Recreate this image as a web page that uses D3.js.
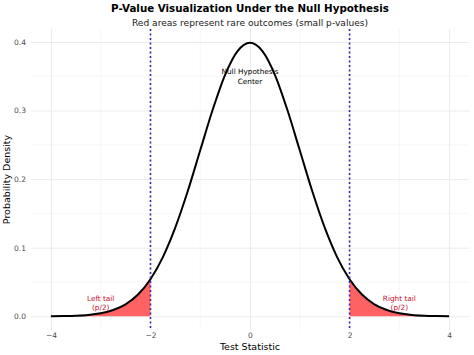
<!DOCTYPE html>
<html lang="en">
<head>
    <meta charset="UTF-8">
    <title>P-Value Visualization</title>
    <style>
        body { margin: 0; background: #fff; }
        text { font-family: "DejaVu Sans", sans-serif; }
    </style>
</head>
<body>
    <svg width="474" height="355"></svg>
    <script src="https://d3js.org/d3.v7.min.js"></script>
    <script>
        // test statistic grid and the density
        var xs = [-4, -3.75, -3.5, -3.25, -3, -2.75, -2.5, -2.25, -2, -1.75, -1.5, -1.25, -1, -0.75, -0.5, -0.25,
                  0, 0.25, 0.5, 0.75, 1, 1.25, 1.5, 1.75, 2, 2.25, 2.5, 2.75, 3, 3.25, 3.5, 3.75, 4];
        var density = [0.0001, 0.0004, 0.0009, 0.002, 0.0044, 0.0091, 0.0175, 0.0317, 0.054, 0.0863, 0.1295, 0.1826,
                       0.242, 0.3011, 0.3521, 0.3867, 0.3989, 0.3867, 0.3521, 0.3011, 0.242, 0.1826, 0.1295, 0.0863,
                       0.054, 0.0317, 0.0175, 0.0091, 0.0044, 0.002, 0.0009, 0.0004, 0.0001];
        var critical = [-2, 2];
        var xTicks = [-4, -2, 0, 2, 4];
        var yTicks = [0, 0.1, 0.2, 0.3, 0.4];
        var labels = [
            {x: 0, y: 0.35, lines: ["Null Hypothesis", "Center"], color: "#000"},
            {x: -3, y: 0.02, lines: ["Left tail", "(p/2)"], color: "#c8102e"},
            {x: 3, y: 0.02, lines: ["Right tail", "(p/2)"], color: "#c8102e"}
        ];

        var data = xs.map(function(x, i){ return {x: x, y: density[i]}; });

        var svg = d3.select("svg"),
            margin = {top: 29, right: 5, bottom: 25, left: 31},
            width = +svg.attr("width") - margin.left - margin.right,
            height = +svg.attr("height") - margin.top - margin.bottom,
            g = svg.append("g").attr("transform", "translate(" + margin.left + "," + margin.top + ")");

        // ggplot style 5% expansion
        var x = d3.scaleLinear().domain([-4.4, 4.4]).range([0, width]);
        var y = d3.scaleLinear().domain([-0.02, 0.4189]).range([height, 0]);

        // grid, minor then major
        g.append("g").selectAll("line")
            .data([-3, -1, 1, 3])
            .enter().append("line")
            .attr("x1", function(d){ return x(d); }).attr("x2", function(d){ return x(d); })
            .attr("y1", 0).attr("y2", height)
            .attr("stroke", "#f0f0f0").attr("stroke-width", 0.6);
        g.append("g").selectAll("line")
            .data([0.05, 0.15, 0.25, 0.35])
            .enter().append("line")
            .attr("y1", function(d){ return y(d); }).attr("y2", function(d){ return y(d); })
            .attr("x1", 0).attr("x2", width)
            .attr("stroke", "#f0f0f0").attr("stroke-width", 0.6);

        var xAxis = g.append("g")
            .attr("transform", "translate(0," + height + ")")
            .call(d3.axisBottom(x).tickValues(xTicks).tickSize(-height).tickFormat(d3.format("d")));
        var yAxis = g.append("g")
            .call(d3.axisLeft(y).tickValues(yTicks).tickSize(-width).tickFormat(d3.format(".1f")));

        [xAxis, yAxis].forEach(function(a){
            a.select(".domain").remove();
            a.selectAll(".tick line").attr("stroke", "#ebebeb").attr("stroke-width", 1);
            a.selectAll(".tick text").attr("fill", "#4d4d4d").attr("font-size", 7.5)
                .style("font-family", "DejaVu Sans, sans-serif");
        });
        xAxis.selectAll(".tick text").attr("dy", "0.71em").attr("y", 3);
        yAxis.selectAll(".tick text").attr("x", -5);

        // shaded tails
        var area = d3.area()
            .x(function(d){ return x(d.x); })
            .y0(y(0))
            .y1(function(d){ return y(d.y); })
            .curve(d3.curveMonotoneX);

        g.append("path")
            .datum(data.filter(function(d){ return d.x <= critical[0]; }))
            .attr("fill", "#ff6262")
            .attr("d", area);
        g.append("path")
            .datum(data.filter(function(d){ return d.x >= critical[1]; }))
            .attr("fill", "#ff6262")
            .attr("d", area);

        // density curve
        var line = d3.line()
            .x(function(d){ return x(d.x); })
            .y(function(d){ return y(d.y); })
            .curve(d3.curveMonotoneX);

        g.append("path")
            .datum(data)
            .attr("fill", "none")
            .attr("stroke", "#000")
            .attr("stroke-width", 2)
            .attr("d", line);

        // critical values
        g.append("g").selectAll("line")
            .data(critical)
            .enter().append("line")
            .attr("x1", function(d){ return x(d); }).attr("x2", function(d){ return x(d); })
            .attr("y1", 0).attr("y2", height)
            .attr("stroke", "#3a2aa8")
            .attr("stroke-width", 1.6)
            .attr("stroke-dasharray", "2,2.5");

        // annotations
        var ann = g.append("g").selectAll("text")
            .data(labels)
            .enter().append("text")
            .attr("text-anchor", "middle")
            .attr("font-size", 7.3)
            .attr("fill", function(d){ return d.color; })
            .attr("transform", function(d){ return "translate(" + x(d.x) + "," + y(d.y) + ")"; });
        ann.selectAll("tspan")
            .data(function(d){ return d.lines; })
            .enter().append("tspan")
            .attr("x", 0)
            .attr("y", function(d, i){ return i * 9.5 - 2; })
            .text(function(d){ return d; });

        // titles
        svg.append("text")
            .attr("x", 250).attr("y", 12)
            .attr("text-anchor", "middle")
            .attr("font-size", 10.3)
            .attr("font-weight", "bold")
            .text("P-Value Visualization Under the Null Hypothesis");
        svg.append("text")
            .attr("x", 250).attr("y", 26)
            .attr("text-anchor", "middle")
            .attr("font-size", 9.1)
            .attr("fill", "#1a1a1a")
            .text("Red areas represent rare outcomes (small p-values)");
        svg.append("text")
            .attr("x", 250).attr("y", 350)
            .attr("text-anchor", "middle")
            .attr("font-size", 9.5)
            .text("Test Statistic");
        svg.append("text")
            .attr("transform", "translate(10," + (margin.top + height / 2) + ") rotate(-90)")
            .attr("text-anchor", "middle")
            .attr("font-size", 9.5)
            .text("Probability Density");
    </script>
</body>
</html>
